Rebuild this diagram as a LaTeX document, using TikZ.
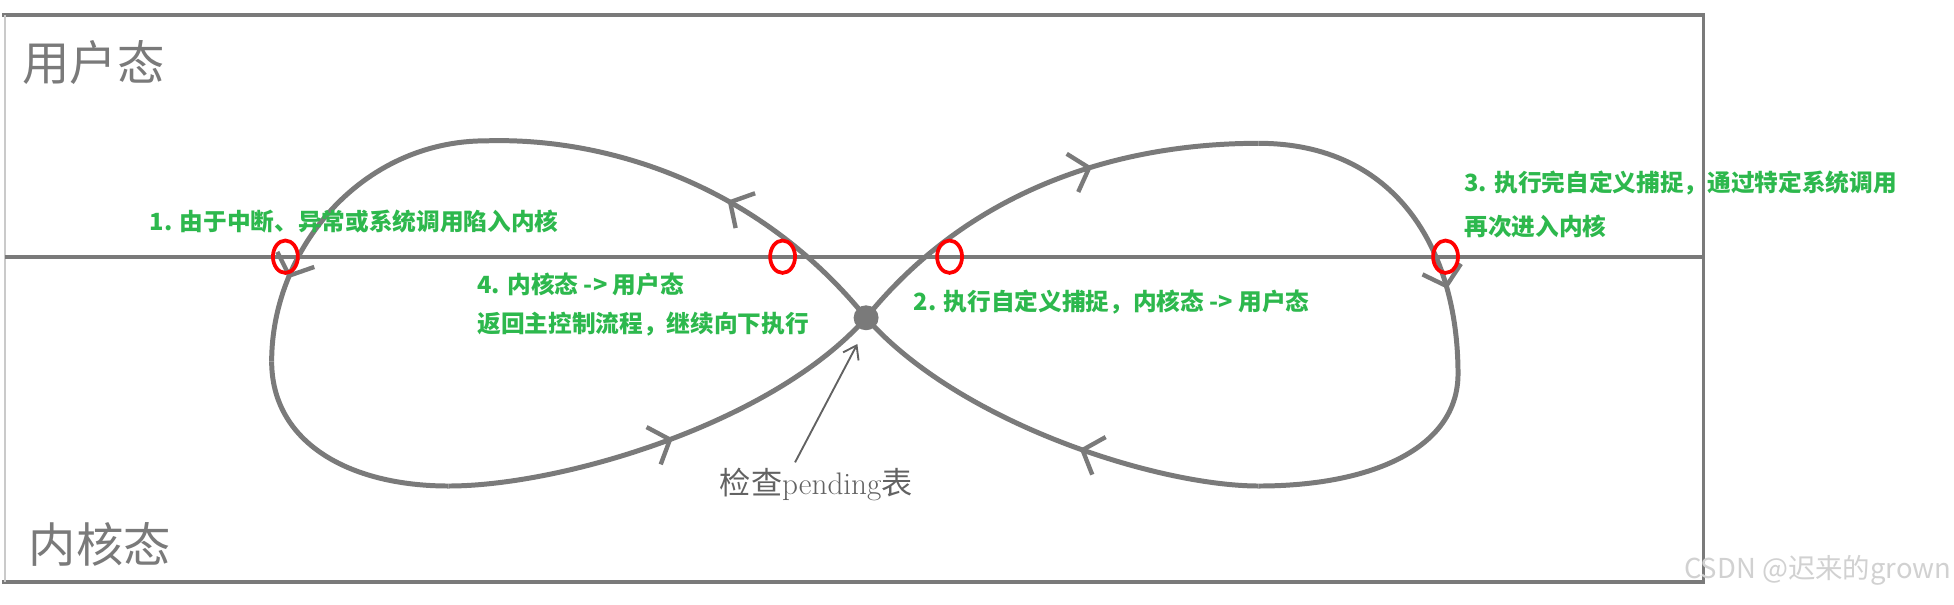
\documentclass[tikz,border=0pt]{standalone}
\usepackage{fontspec}
\newfontfamily\cjk{Noto Sans CJK SC}
\usetikzlibrary{arrows.meta,decorations.markings,shapes.geometric}
\definecolor{lg}{HTML}{7A7A7A}
\definecolor{gr}{HTML}{2DB84D}
\tikzset{
  frame/.style={draw=lg,line width=3pt},
  loopline/.style={draw=lg,line width=4pt},
  ring/.style={draw=red,line width=3pt,ellipse,minimum width=20pt,minimum height=26pt,inner sep=0pt},
  note/.style={text=gr,font=\cjk\bfseries\fontsize{19}{22}\selectfont,anchor=west,inner sep=0pt},
  big/.style={text=lg,font=\cjk\fontsize{38}{40}\selectfont,inner sep=0pt},
  arr/.style={decoration={markings,mark=at position #1 with {\arrow[lg,line width=3.5pt]{Straight Barb[length=14pt,width=32pt]}}},postaction=decorate}
}
\begin{document}
\begin{tikzpicture}[x=1pt,y=-1pt]
\useasboundingbox[fill=white] (0,0) rectangle (1568,485);
\draw[frame] (2,12) -- (1367,12) -- (1367,467) -- (2,467);
\draw[draw=lg!40,line width=1pt] (4,12) -- (4,467);
\draw[frame] (4,206) -- (1367,206);
\node[big] (u) at (75,50) {用户态};
\node[big] (k) at (80,437) {内核态};
\coordinate (c) at (695,255);
\coordinate (lt) at (390,113);
\coordinate (ll) at (218,290);
\coordinate (lb) at (360,390);
\coordinate (rt) at (1010,115);
\coordinate (rr) at (1170,300);
\coordinate (rb) at (1010,390);
% left lobe
\draw[loopline,arr=0.42] (c) .. controls (610,150) and (490,110) .. (lt);
\draw[loopline,arr=0.75] (lt) .. controls (290,113) and (218,200) .. (ll);
\draw[loopline] (ll) .. controls (218,355) and (280,390) .. (lb);
\draw[loopline,arr=0.5] (lb) .. controls (450,390) and (620,340) .. (c);
% right lobe
\draw[loopline,arr=0.62] (c) .. controls (780,150) and (900,115) .. (rt);
\draw[loopline,arr=0.75] (rt) .. controls (1120,115) and (1170,200) .. (rr);
\draw[loopline] (rr) .. controls (1170,360) and (1100,390) .. (rb);
\draw[loopline,arr=0.42] (rb) .. controls (930,390) and (770,340) .. (c);
\fill[lg] (c) circle (10pt);
\node[ring] (r1) at (229,206) {};
\node[ring] (r2) at (628,206) {};
\node[ring] (r3) at (762,206) {};
\node[ring] (r4) at (1160,206) {};
\node[text=lg!80!black,font=\fontsize{25}{28}\selectfont,inner sep=0pt] (p) at (655,389) {{\cjk 检查}pending{\cjk 表}};
\draw[lg!80!black,line width=1.5pt,-{Straight Barb[length=10pt,width=14pt]}] (638,371) -- (688,276);
\node[note] (t1) at (120,178) {1. 由于中断、异常或系统调用陷入内核};
\node[note] (t4) at (383,228) {4. 内核态 -> 用户态};
\node[note] (t4b) at (383,260) {返回主控制流程，继续向下执行};
\node[note] (t2) at (733,242) {2. 执行自定义捕捉，内核态 -> 用户态};
\node[note] (t3) at (1175,147) {3. 执行完自定义捕捉，通过特定系统调用};
\node[note] (t3b) at (1175,182) {再次进入内核};
\node[text=black!18,font=\cjk\fontsize{22}{24}\selectfont,anchor=east,inner sep=0pt] (w) at (1566,458) {CSDN @迟来的grown};
\end{tikzpicture}
\end{document}
